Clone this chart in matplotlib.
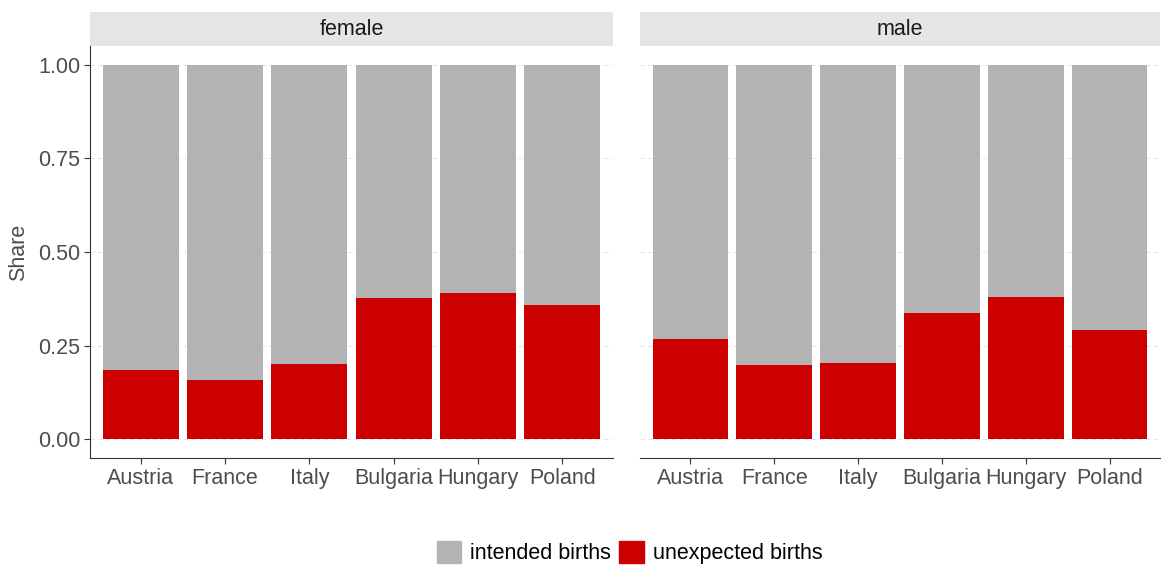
import matplotlib.pyplot as plt
from matplotlib.patches import Patch

plt.rcParams['font.family'] = ['Liberation Sans', 'DejaVu Sans']

# data
countries = ["Austria", "France", "Italy", "Bulgaria", "Hungary", "Poland"]
panels = ["female", "male"]

unexpected_female = [0.186, 0.157, 0.202, 0.377, 0.391, 0.358]
intended_female = [0.814, 0.843, 0.798, 0.623, 0.609, 0.642]

unexpected_male = [0.268, 0.198, 0.203, 0.337, 0.380, 0.292]
intended_male = [0.732, 0.802, 0.797, 0.663, 0.620, 0.708]

yticks = [0.0, 0.25, 0.5, 0.75, 1.0]
ytick_labels = ["0.00", "0.25", "0.50", "0.75", "1.00"]

grey = "#b3b3b3"
red = "#cc0000"
text_col = "#4d4d4d"
fs = 15.5

fig = plt.figure(figsize=(11.64, 5.68), dpi=100)

# axes positions in figure fractions (ggplot facet layout)
ax_left = fig.add_axes([0.0773, 0.1937, 0.4493, 0.7253])
ax_right = fig.add_axes([0.5498, 0.1937, 0.4468, 0.7253])

panel_data = {
    "female": (ax_left, unexpected_female, intended_female),
    "male": (ax_right, unexpected_male, intended_male),
}

for name, (ax, unexp, inten) in panel_data.items():
    x = list(range(1, len(countries) + 1))

    # horizontal dashed grid lines behind the bars
    for t in yticks:
        ax.axhline(t, color="#e6e6e6", lw=0.8, ls=(0, (4, 3)), zorder=0)

    ax.bar(x, unexp, width=0.9, color=red, zorder=2)
    ax.bar(x, inten, width=0.9, bottom=unexp, color=grey, zorder=2)

    ax.set_xlim(0.4, 6.6)
    ax.set_ylim(-0.05, 1.05)
    ax.set_xticks(x)
    ax.set_xticklabels(countries, fontsize=fs, color=text_col)
    ax.set_yticks(yticks)

    for s in ["top", "right"]:
        ax.spines[s].set_visible(False)
    ax.spines["bottom"].set_color("#333333")
    ax.spines["left"].set_color("#333333")
    ax.tick_params(axis="x", length=4, color="#333333", pad=3)
    ax.tick_params(axis="y", length=4, color="#333333", pad=3)

    # facet strip on top
    strip = plt.Rectangle((0, 1.0), 1, 34 / 412, transform=ax.transAxes,
                          fc="#e5e5e5", ec="none", clip_on=False, zorder=1)
    ax.add_patch(strip)
    ax.text(0.5, 1.0 + 17 / 412, name, transform=ax.transAxes, ha="center",
            va="center", fontsize=fs, color="#1a1a1a")

# y axis labels only on the left panel
ax_left.set_yticklabels(ytick_labels, fontsize=fs, color=text_col)
ax_left.set_ylabel("Share", fontsize=fs, color=text_col, labelpad=6)
ax_right.set_yticklabels([])
ax_right.spines["left"].set_visible(False)
ax_right.tick_params(axis="y", length=0)

# legend at the bottom
handles = [Patch(color=grey, label="intended births"),
           Patch(color=red, label="unexpected births")]
fig.legend(handles=handles, loc="center", bbox_to_anchor=(0.541, 0.027),
           ncol=2, frameon=False, fontsize=fs, handlelength=1.15,
           handleheight=1.15, handletextpad=0.42, columnspacing=0.37)

plt.savefig("out.png", dpi=100)
